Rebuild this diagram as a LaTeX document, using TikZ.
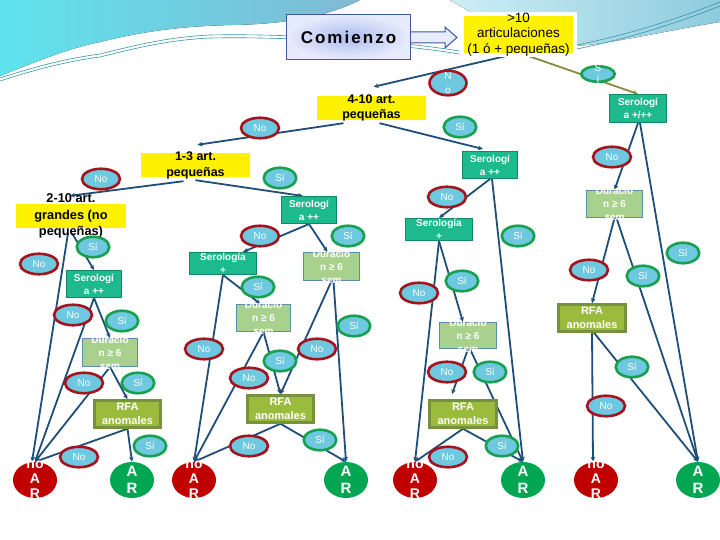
\documentclass[tikz,border=0pt]{standalone}
\usepackage{fontspec}
\setmainfont{Liberation Sans}
\usetikzlibrary{calc,shapes.geometric,arrows.meta}
\definecolor{edgec}{HTML}{1F4E79}
\definecolor{olivec}{HTML}{8A8A3E}
\definecolor{labfill}{HTML}{6EC8E0}
\definecolor{nored}{HTML}{A5141E}
\definecolor{sigreen}{HTML}{17A04E}
\definecolor{tealf}{HTML}{1DBA8E}
\definecolor{teald}{HTML}{14876A}
\definecolor{durf}{HTML}{A9D18E}
\definecolor{durd}{HTML}{5B8FA8}
\definecolor{rfaf}{HTML}{9BBB3C}
\definecolor{rfad}{HTML}{76923C}
\definecolor{noarf}{HTML}{C00000}
\definecolor{arf}{HTML}{00A651}
\definecolor{comf}{HTML}{E6ECFB}
\definecolor{comc}{HTML}{AEBBF0}
\definecolor{comd}{HTML}{3C5A99}
\definecolor{bandL}{HTML}{5FE3EE}
\definecolor{bandM}{HTML}{80BAD3}
\definecolor{bandR1}{HTML}{CDEEF5}
\definecolor{bandR2}{HTML}{8ECBDE}
\definecolor{swc}{HTML}{3A95AA}
\newcommand\fsz[2]{\fontsize{#1}{#2}\selectfont}
\pgfdeclarelayer{bg}
\pgfdeclarelayer{edges}
\pgfsetlayers{bg,edges,main}
\tikzset{
 edge/.style={draw=edgec, line width=1.8pt, -{Stealth[length=5pt,width=4.5pt]}},
 ybox/.style={rectangle, fill=yellow, draw=none, inner sep=0},
 ytxt/.style={text=black, font=\fsz{12.5}{16}\bfseries, align=center, inner sep=0},
 sbox/.style={rectangle, fill=tealf, draw=teald, line width=1pt, inner sep=0},
 dbox/.style={rectangle, fill=durf, draw=durd, line width=1pt, inner sep=0},
 rbox/.style={rectangle, fill=rfaf, draw=rfad, line width=2.5pt, inner sep=0},
 wtxt/.style={text=white, font=\fsz{10}{13}\bfseries, align=center, inner sep=0},
 rtxt/.style={text=white, font=\fsz{11}{14}\bfseries, align=center, inner sep=0},
 noel/.style={ellipse, fill=labfill, draw=nored, line width=2.6pt, minimum width=38pt, minimum height=20.5pt, inner sep=0, text=white, font=\fsz{10}{12}},
 siel/.style={ellipse, fill=labfill, draw=sigreen, line width=2.6pt, minimum width=32.5pt, minimum height=20.5pt, inner sep=0, text=white, font=\fsz{10}{12}},
 noar/.style={ellipse, fill=noarf, draw=none, minimum width=44pt, minimum height=36pt, inner sep=0},
 arel/.style={ellipse, fill=arf, draw=none, minimum width=44pt, minimum height=36pt, inner sep=0},
 btxt/.style={text=white, font=\fsz{14}{15}\bfseries, align=center, inner sep=0},
 atxt/.style={text=white, font=\fsz{15}{17}\bfseries, align=center, inner sep=0},
 swl/.style={draw=swc, line width=0.6pt},
}
\begin{document}
\begin{tikzpicture}[x=1pt,y=-1pt]
\useasboundingbox (0,0) rectangle (720,540);
\begin{pgfonlayer}{bg}
\fill[white] (0,0) rectangle (720,540);
\fill[left color=bandL, right color=bandM] (0,0) -- (360,0) .. controls (330,15) and (290,24) .. (233,25) .. controls (180,26) and (140,32) .. (100,42) .. controls (70,48) and (40,60) .. (0,76) -- cycle;
\fill[left color=bandR1, right color=bandR2] (450,0) -- (720,0) -- (720,22) .. controls (670,30) and (610,44) .. (575,46) .. controls (540,47) and (500,30) .. (450,0) -- cycle;
\draw[swl] (0,81) .. controls (40,68) and (70,61) .. (100,57) .. controls (140,47) and (170,40) .. (210,38) .. controls (300,36) and (420,46) .. (470,56);
\draw[swl] (0,78) .. controls (40,65) and (70,58) .. (100,54) .. controls (140,44) and (170,37) .. (210,35) .. controls (300,33) and (420,43) .. (470,53);
\draw[swl] (560,52) .. controls (620,42) and (680,22) .. (720,6);
\draw[swl] (560,48) .. controls (620,38) and (680,18) .. (720,2);
\end{pgfonlayer}

% top
\node[rectangle, draw=comd, line width=1pt, inner color=comc, outer color=comf, minimum width=124pt, minimum height=45pt, inner sep=0,
  label={[text=black, inner sep=0, font=\fsz{17}{17}\bfseries\addfontfeatures{LetterSpace=12}]center:Comienzo}] (com) at (348.5,37) {};
\draw[draw=comd, line width=1pt, fill=comf] (com.east |- 0,32) -- (445,32) -- (445,27) -- (457,37.5) -- (445,48) -- (445,43) -- (com.east |- 0,43);
\node[rectangle, fill=yellow, draw=white, line width=4pt, minimum width=113pt, minimum height=41pt, inner sep=0,
  label={[ytxt, font=\fsz{13.5}{15.5}]center:>10\\articulaciones\\(1 ó + pequeñas)}] (gt10) at (518.5,34.5) {};

\node[ybox, minimum width=109pt, minimum height=24pt, label={[ytxt, font=\fsz{12.5}{15}\bfseries]center:4-10 art.\\pequeñas}] (t410) at (371.5,108) {};
\node[ybox, minimum width=109pt, minimum height=24pt, label={[ytxt, font=\fsz{12.5}{16}\bfseries]center:1-3 art.\\pequeñas}] (t13) at (195.5,165) {};
\node[ybox, minimum width=110pt, minimum height=24pt, label={[ytxt, font=\fsz{12.8}{16.5}\bfseries]center:2-10 art.\\grandes (no\\pequeñas)}] (t210) at (71,216) {};

% serologia boxes
\node[sbox, minimum width=57pt, minimum height=28pt, label={[wtxt]center:Serologí\\a +/++}] (serpp) at (638,108.5) {};
\node[sbox, minimum width=55pt, minimum height=27pt, label={[wtxt]center:Serologí\\a ++}] (serA) at (490,165) {};
\node[sbox, minimum width=55pt, minimum height=27pt, label={[wtxt]center:Serologí\\a ++}] (serB) at (309,210) {};
\node[sbox, minimum width=67pt, minimum height=22pt, label={[wtxt]center:Serología\\+}] (serC) at (439,229.5) {};
\node[sbox, minimum width=67pt, minimum height=22pt, label={[wtxt]center:Serología\\+}] (serD) at (223,263.5) {};
\node[sbox, minimum width=55pt, minimum height=27pt, label={[wtxt]center:Serologí\\a ++}] (serE) at (94,284) {};

% duracion boxes
\node[dbox, minimum width=56pt, minimum height=27pt, label={[wtxt]center:Duració\\n ≥ 6\\sem}] (durR) at (614.5,204) {};
\node[dbox, minimum width=57pt, minimum height=26pt, label={[wtxt]center:Duració\\n ≥ 6\\sem}] (durMR) at (468,335.5) {};
\node[dbox, minimum width=56pt, minimum height=28pt, label={[wtxt]center:Duració\\n ≥ 6\\sem}] (durTM) at (331.5,266.5) {};
\node[dbox, minimum width=54pt, minimum height=27pt, label={[wtxt]center:Duració\\n ≥ 6\\sem}] (durML) at (263.5,318) {};
\node[dbox, minimum width=55pt, minimum height=28pt, label={[wtxt]center:Duració\\n ≥ 6\\sem}] (durL) at (110,352.5) {};

% RFA boxes
\node[rbox, minimum width=67pt, minimum height=27pt, label={[rtxt]center:RFA\\anomales}] (rfaR) at (592,318) {};
\node[rbox, minimum width=67pt, minimum height=27pt, label={[rtxt]center:RFA\\anomales}] (rfaMR) at (463,414) {};
\node[rbox, minimum width=66pt, minimum height=27pt, label={[rtxt]center:RFA\\anomales}] (rfaML) at (280.5,409) {};
\node[rbox, minimum width=66pt, minimum height=27pt, label={[rtxt]center:RFA\\anomales}] (rfaL) at (127.5,414) {};

% outcomes
\node[noar, label={[btxt]center:no\\A\\R}] (noarL) at (35,480) {};
\node[arel, label={[atxt]center:A\\R}] (arL) at (132,480) {};
\node[noar, label={[btxt]center:no\\A\\R}] (noarML) at (194,480) {};
\node[arel, label={[atxt]center:A\\R}] (arML) at (346,480) {};
\node[noar, label={[btxt]center:no\\A\\R}] (noarMR) at (415,480) {};
\node[arel, label={[atxt]center:A\\R}] (arMR) at (523,480) {};
\node[noar, label={[btxt]center:no\\A\\R}] (noarR) at (596,480) {};
\node[arel, label={[atxt]center:A\\R}] (arR) at (698,480) {};

% connectors
\begin{pgfonlayer}{edges}
\draw[edge] ($(gt10.south)+(-8,-2)$) -- ($(t410.north)+(2,-9)$);
\draw[edge, draw=olivec] ($(gt10.south)+(7,-2)$) -- (serpp.north);
\draw[edge] ($(t410.south)+(-28,3)$) -- ($(t13.north)+(2,-8)$);
\draw[edge] ($(t410.south)+(8,3)$) -- ($(serA.north)+(-7,-2)$);
\draw[edge] ($(t13.south)+(-12,4)$) -- ($(t210.north)+(-1,-8)$);
\draw[edge] ($(t13.south)+(0,3)$) -- ($(serB.north)+(-6,0)$);
\draw[edge] (serpp.south) -- (durR.north);
\draw[edge] ($(serpp.south)+(2,0)$) -- (arR.north);
\draw[edge] (durR.south) -- (rfaR.north);
\draw[edge] ($(durR.south)+(2,0)$) -- (arR.north);
\draw[edge] (rfaR.south) -- ($(noarR.north)+(-3,0)$);
\draw[edge] ($(rfaR.south)+(2,0)$) -- (arR.north);
\draw[edge] (serA.south) -- (serC.north);
\draw[edge] ($(serA.south)+(2,0)$) -- (arMR.north);
\draw[edge] (serC.south) -- (noarMR.north);
\draw[edge] (serC.south) -- ($(durMR.north)+(-5,0)$);
\draw[edge] (durMR.south) -- ($(rfaMR.north)+(-11,-5)$);
\draw[edge] ($(durMR.south)+(2,0)$) -- (arMR.north);
\draw[edge] (rfaMR.south) -- (noarMR.north);
\draw[edge] (rfaMR.south) -- (arMR.north);
\draw[edge] (serB.south) -- ($(serD.north)+(20,0)$);
\draw[edge] (serB.south) -- ($(durTM.north)+(-4,0)$);
\draw[edge] (serD.south) -- (noarML.north);
\draw[edge] (serD.south) -- ($(durML.north)+(-3,0)$);
\draw[edge] (durTM.south) -- (rfaML.north);
\draw[edge] ($(durTM.south)+(2,0)$) -- (arML.north);
\draw[edge] (durML.south) -- (noarML.north);
\draw[edge] (durML.south) -- (rfaML.north);
\draw[edge] (rfaML.south) -- (noarML.north);
\draw[edge] (rfaML.south) -- (arML.north);
\draw[edge] ($(t210.south)+(-3,5)$) -- ($(noarL.north)+(-3,0)$);
\draw[edge] ($(t210.south)+(1,5)$) -- (serE.north);
\draw[edge] (serE.south) -- (noarL.north);
\draw[edge] (serE.south) -- (durL.north);
\draw[edge] (durL.south) -- (noarL.north);
\draw[edge] (durL.south) -- (rfaL.north);
\draw[edge] (rfaL.south) -- (noarL.north);
\draw[edge] (rfaL.south) -- (arL.north);
\end{pgfonlayer}

% branch labels
\node[noel, minimum width=37pt, minimum height=24.5pt, label={[text=white, font=\fsz{10}{14}, align=center, inner sep=0]center:N\\o}] (lno0) at (448,83) {};
\node[siel, minimum width=33.5pt, minimum height=15.5pt, label={[text=white, font=\fsz{10}{12}, align=center, inner sep=0]center:S\\í}] (lsi0) at (598,74) {};
\node[noel] (lno1) at (260,128) {No};
\node[noel] (lno2) at (101,179) {No};
\node[noel] (lno3) at (612,157) {No};
\node[noel] (lno4) at (447,197) {No};
\node[noel] (lno5) at (260,236) {No};
\node[noel] (lno6) at (39,264) {No};
\node[noel] (lno7) at (589,270) {No};
\node[noel] (lno8) at (419,293) {No};
\node[noel] (lno9) at (73,315) {No};
\node[noel] (lno10) at (204,349) {No};
\node[noel] (lno11) at (317,349) {No};
\node[noel] (lno12) at (249,378) {No};
\node[noel] (lno13) at (84,383) {No};
\node[noel] (lno14) at (447,372) {No};
\node[noel] (lno15) at (606,406) {No};
\node[noel] (lno16) at (79,457) {No};
\node[noel] (lno17) at (249,446) {No};
\node[noel] (lno18) at (448,457) {No};
\node[siel] (lsi1) at (460,127) {Sí};
\node[siel] (lsi2) at (280,178) {Sí};
\node[siel] (lsi3) at (348,236) {Sí};
\node[siel] (lsi4) at (93,247) {Sí};
\node[siel] (lsi5) at (518,236) {Sí};
\node[siel] (lsi6) at (683,253) {Sí};
\node[siel] (lsi7) at (258,287) {Sí};
\node[siel] (lsi8) at (462,281) {Sí};
\node[siel] (lsi9) at (643,276) {Sí};
\node[siel] (lsi10) at (122,321) {Sí};
\node[siel] (lsi11) at (354,326) {Sí};
\node[siel] (lsi12) at (280,361) {Sí};
\node[siel] (lsi13) at (138,383) {Sí};
\node[siel] (lsi14) at (490,372) {Sí};
\node[siel] (lsi15) at (632,367) {Sí};
\node[siel] (lsi16) at (320,440) {Sí};
\node[siel] (lsi17) at (150,446) {Sí};
\node[siel] (lsi18) at (502,446) {Sí};
\end{tikzpicture}
\end{document}
